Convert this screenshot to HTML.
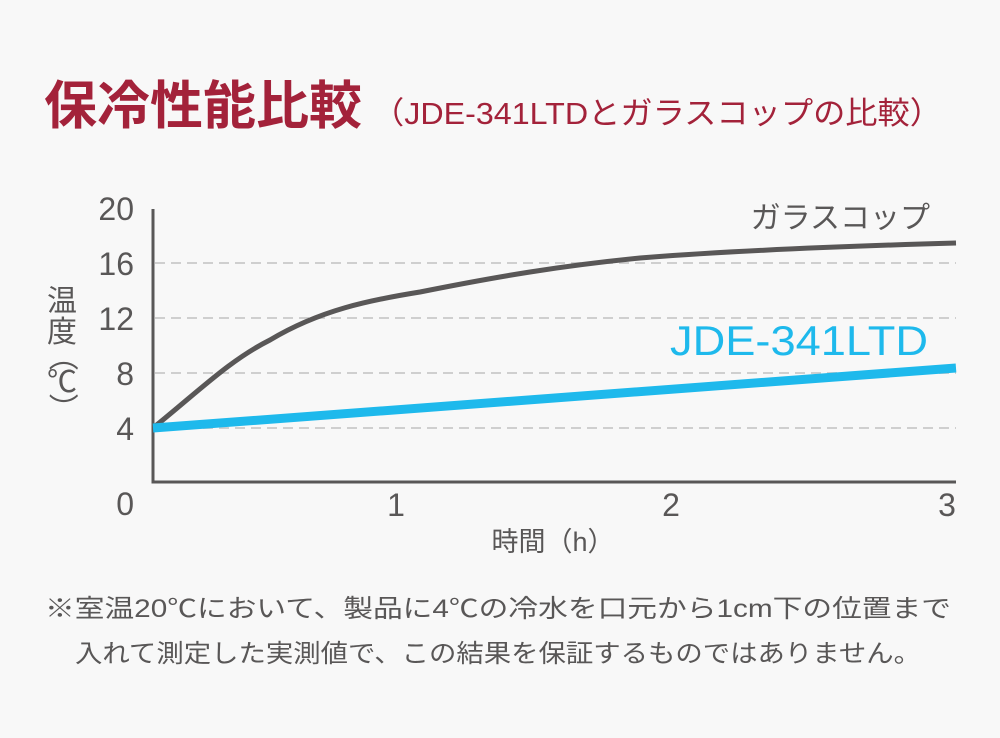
<!DOCTYPE html>
<html><head><meta charset="utf-8"><style>
body{margin:0;width:1000px;height:738px;background:#f8f8f8;overflow:hidden}
svg{display:block}
text{font-family:"Liberation Sans","Noto Sans CJK JP",sans-serif}
</style></head><body>
<svg width="1000" height="738" viewBox="0 0 1000 738">
<rect width="1000" height="738" fill="#f8f8f8"/>
<text x="44" y="124" font-size="52" font-weight="bold" fill="#a3223a" font-family="Noto Sans CJK JP,sans-serif" textLength="318" lengthAdjust="spacingAndGlyphs">保冷性能比較</text>
<text x="372" y="124" font-size="31" fill="#a3223a" font-family="Noto Sans CJK JP,sans-serif" textLength="570" lengthAdjust="spacingAndGlyphs">（JDE-341LTDとガラスコップの比較）</text>
<g stroke="#cfcfcf" stroke-width="2" stroke-dasharray="10 6">
<line x1="155" y1="263" x2="956" y2="263"/><line x1="155" y1="318" x2="956" y2="318"/>
<line x1="155" y1="373" x2="956" y2="373"/><line x1="155" y1="428" x2="956" y2="428"/>
</g>
<polyline points="153,209 153,482 956,482" fill="none" stroke="#595757" stroke-width="3"/>
<g font-size="32" fill="#595757" text-anchor="end">
<text x="134" y="220">20</text><text x="134" y="275">16</text><text x="134" y="330">12</text>
<text x="134" y="385">8</text><text x="134" y="440">4</text><text x="134" y="515">0</text>
</g>
<g font-size="32" fill="#595757" text-anchor="middle">
<text x="396" y="516">1</text><text x="671" y="516">2</text><text x="947" y="516">3</text>
</g>
<text x="553" y="551" font-size="27" fill="#595757" text-anchor="middle" font-family="Noto Sans CJK JP,sans-serif">時間（h）</text>
<g font-size="30" fill="#595757" text-anchor="middle" font-family="Noto Sans CJK JP,sans-serif">
<text x="62" y="311">温</text><text x="62" y="342">度</text>
<text x="62" y="366" transform="rotate(90 62 356)">（</text>
<text x="62" y="392">℃</text>
<text x="62" y="418" transform="rotate(90 62 408)">）</text>
</g>
<path d="M153,428 C200,390 230,360 270,340 C320,310 370,300 420,292 C500,276 560,266 640,258 C740,250 850,246 956,243" fill="none" stroke="#595757" stroke-width="5"/>
<line x1="153" y1="428" x2="956" y2="368" stroke="#1eb9ec" stroke-width="9"/>
<text x="930" y="228" font-size="30" fill="#595757" text-anchor="end" font-family="Noto Sans CJK JP,sans-serif">ガラスコップ</text>
<text x="928" y="355" font-size="42" fill="#1eb9ec" text-anchor="end" font-family="DejaVu Sans,sans-serif" textLength="258" lengthAdjust="spacingAndGlyphs">JDE-341LTD</text>
<g font-size="25" fill="#595757" font-family="Noto Sans CJK JP,sans-serif">
<text x="45" y="617" textLength="906" lengthAdjust="spacingAndGlyphs">※室温20℃において、製品に4℃の冷水を口元から1cm下の位置まで</text>
<text x="75" y="662" textLength="846" lengthAdjust="spacingAndGlyphs">入れて測定した実測値で、この結果を保証するものではありません。</text>
</g>
</svg>
</body></html>
